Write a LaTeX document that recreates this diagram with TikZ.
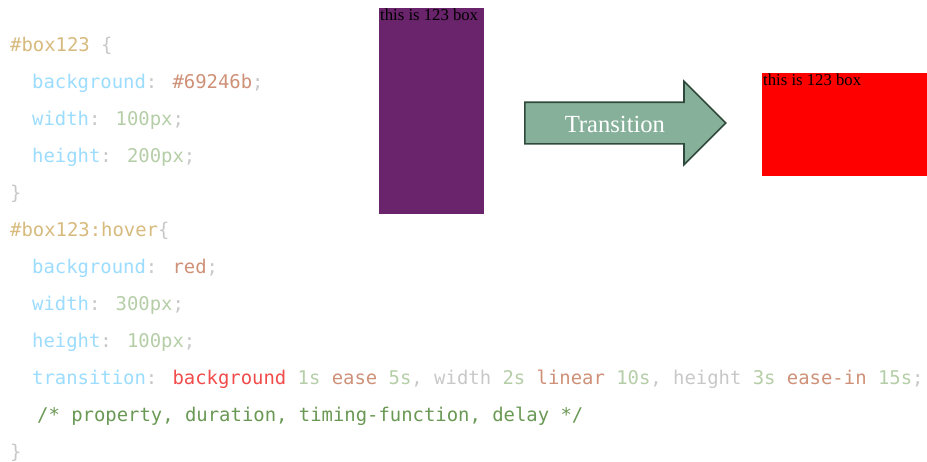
\documentclass[tikz,border=0pt]{standalone}
\usepackage{fontspec}
\setmainfont{Liberation Serif}
\newfontfamily\codefont{DejaVu Sans Mono}
\usepackage{tikz}
\usetikzlibrary{shapes.arrows}
\definecolor{selcol}{HTML}{D7BA7D}
\definecolor{propcol}{HTML}{9CDCFE}
\definecolor{numcol}{HTML}{B5CEA8}
\definecolor{strcol}{HTML}{CE9178}
\definecolor{puncol}{HTML}{C8C8C8}
\definecolor{hotcol}{HTML}{F14C4C}
\definecolor{comcol}{HTML}{6A9955}
\definecolor{boxpurple}{HTML}{69246B}
\definecolor{arrowgreen}{HTML}{86B09A}
\definecolor{arrowborder}{HTML}{2F4A3C}
\newcommand{\csssel}[1]{\textcolor{selcol}{#1}}
\newcommand{\cssprop}[1]{\textcolor{propcol}{#1}}
\newcommand{\cssnum}[1]{\textcolor{numcol}{#1}}
\newcommand{\cssstr}[1]{\textcolor{strcol}{#1}}
\newcommand{\csspun}[1]{\textcolor{puncol}{#1}}
\newcommand{\csshot}[1]{\textcolor{hotcol}{#1}}
\newcommand{\csscom}[1]{\textcolor{comcol}{#1}}
\tikzset{
  codeline/.style={
    anchor=base west,
    inner sep=0pt,
    font=\codefont\fontsize{18.9}{22}\selectfont},
  demobox/.style={
    rectangle,
    draw=none,
    inner sep=0pt,
    anchor=north west},
  boxlabel/.style={
    anchor=north west,
    inner sep=1pt,
    font=\fontsize{16.7}{18}\selectfont},
  transarrow/.style={
    single arrow,
    single arrow head extend=21pt,
    single arrow tip angle=90,
    single arrow head indent=0pt,
    fill=arrowgreen,
    draw=arrowborder, line width=1.6pt,
    text=white,
    font=\fontsize{24.6}{26}\selectfont,
    text height=19.5pt, text depth=0.5pt,
    inner ysep=10pt,
    minimum height=201pt,
    anchor=tail},
}

\begin{document}
\begin{tikzpicture}[x=1pt, y=-1pt]
     \useasboundingbox (0,0) rectangle (927,461);
     % css code
     \node[codeline] (LineSel)    at (10,51)  {\csssel{\#box123} \csspun{\{}};
     \node[codeline] (LineBg)     at (32,88)  {\cssprop{background}\csspun{:} \cssstr{\#69246b}\csspun{;}};
     \node[codeline] (LineWidth)  at (32,125) {\cssprop{width}\csspun{:} \cssnum{100px}\csspun{;}};
     \node[codeline] (LineHeight) at (32,162) {\cssprop{height}\csspun{:} \cssnum{200px}\csspun{;}};
     \node[codeline] (LineClose)  at (10,199) {\csspun{\}}};
     \node[codeline] (LineHover)  at (10,236) {\csssel{\#box123:hover}\csspun{\{}};
     \node[codeline] (HoverBg)    at (32,273) {\cssprop{background}\csspun{:} \cssstr{red}\csspun{;}};
     \node[codeline] (HoverWidth) at (32,310) {\cssprop{width}\csspun{:} \cssnum{300px}\csspun{;}};
     \node[codeline] (HoverHeight) at (32,347) {\cssprop{height}\csspun{:} \cssnum{100px}\csspun{;}};
     \node[codeline] (HoverTrans) at (32,384) {\cssprop{transition}\csspun{:} \csshot{background} \cssnum{1s} \cssstr{ease} \cssnum{5s}\csspun{, width} \cssnum{2s} \cssstr{linear} \cssnum{10s}\csspun{, height} \cssnum{3s} \cssstr{ease-in} \cssnum{15s}\csspun{;}};
     \node[codeline] (HoverNote)  at (37,421) {\csscom{/* property, duration, timing-function, delay */}};
     \node[codeline] (HoverClose) at (10,458) {\csspun{\}}};
     % boxes
     \node[demobox, fill=boxpurple, minimum width=105pt, minimum height=206pt] (OldBox) at (379,8) {};
     \node[boxlabel] (OldLabel) at (OldBox.north west) {this is 123 box};
     \node[transarrow] (Trans) at (524,123) {Transition};
     \node[demobox, fill=red, minimum width=165pt, minimum height=103pt] (NewBox) at (762,73) {};
     \node[boxlabel] (NewLabel) at (NewBox.north west) {this is 123 box};
\end{tikzpicture}
\end{document}
